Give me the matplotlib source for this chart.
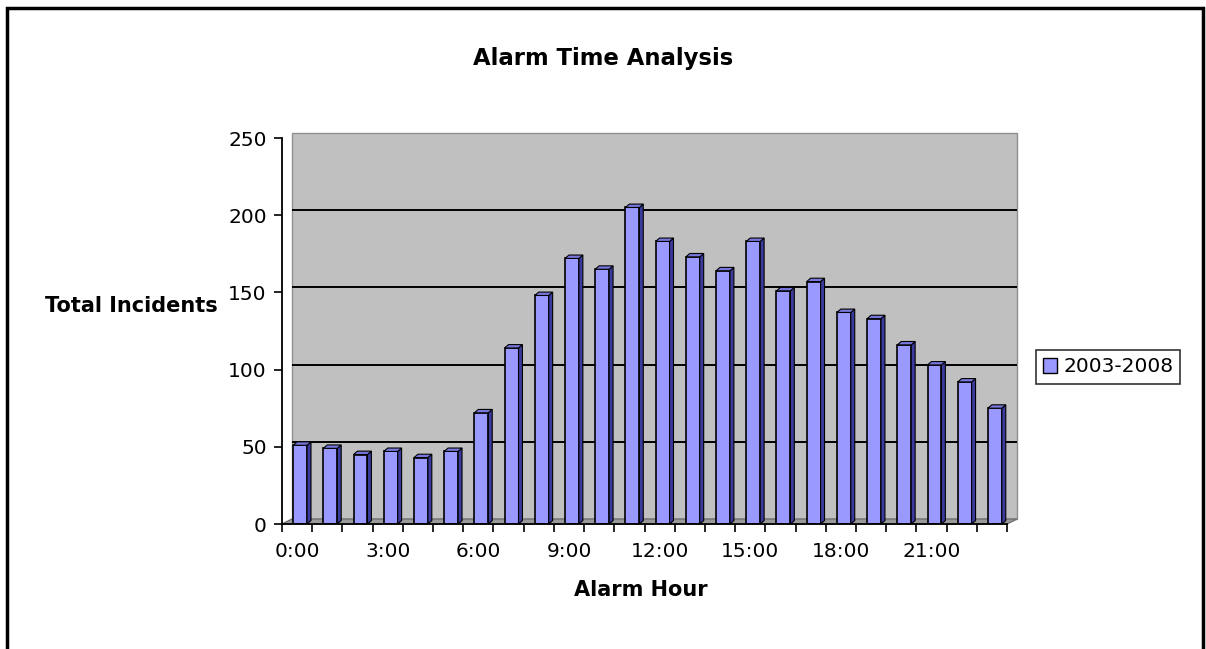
import matplotlib
matplotlib.use("Agg")
import matplotlib.pyplot as plt
import matplotlib.transforms as mtransforms
from matplotlib.patches import Polygon, Rectangle
import numpy as np

# alarm counts per hour, 2003-2008
hours = ["%d:00" % h for h in range(24)]
incidents = [51, 49, 45, 47, 43, 47, 72, 114, 148, 172, 165, 205,
             183, 173, 164, 183, 151, 157, 137, 133, 116, 103, 92, 75]
series_name = "2003-2008"
yticks = [0, 50, 100, 150, 200, 250]

front = "#9999FF"
side = "#3B3B9E"
top = "#7777DD"
wall = "#C0C0C0"

plt.rcParams['font.family'] = ['DejaVu Sans']

fig = plt.figure(figsize=(12.06, 6.49), dpi=100)
ax_l, ax_b, ax_w, ax_h = 282, 524, 725, 386   # pixels
ax = fig.add_axes([ax_l / 1206, 1 - ax_b / 649, ax_w / 1206, ax_h / 649])
ax.set_facecolor("none")

# back wall and floor shifted back (fake 3d depth)
ox, oy = 10 / ax_w, 5 / ax_h
ax.add_patch(Rectangle((ox, oy), 1, 1, transform=ax.transAxes, facecolor=wall,
                       edgecolor="#909090", lw=1, clip_on=False, zorder=0))
ax.add_patch(Polygon([(0, 0), (1, 0), (1 + ox, oy), (ox, oy)], closed=True,
                     transform=ax.transAxes, facecolor="#9A9A9A", edgecolor="#707070",
                     lw=1, clip_on=False, zorder=0.5))
grid_tr = mtransforms.blended_transform_factory(ax.transAxes, ax.transData) + \
    mtransforms.ScaledTranslation(0, 0.05, fig.dpi_scale_trans)
ax.hlines(yticks[1:-1], ox, 1 + ox, transform=grid_tr, colors="black", lw=1.4,
          clip_on=False, zorder=1)

x = np.arange(len(incidents))
w = 0.46
dx, dy = 0.13, 2.2

# bars sit a little into the depth, so nudge them right
bar_tr = ax.transData + mtransforms.ScaledTranslation(0.03, 0, fig.dpi_scale_trans)
bars = ax.bar(x, incidents, width=w, color=front, edgecolor="black", linewidth=1.2, zorder=3)
for b in bars:
    b.set_transform(bar_tr)
for xi, v in zip(x, incidents):
    r = xi + w / 2
    ax.add_patch(Polygon([(r, 0), (r + dx, dy), (r + dx, v + dy), (r, v)], transform=bar_tr,
                         closed=True, facecolor=side, edgecolor="black", lw=0.8, zorder=3))
    ax.add_patch(Polygon([(r - w, v), (r - w + dx, v + dy), (r + dx, v + dy), (r, v)],
                         transform=bar_tr, closed=True, facecolor=top, edgecolor="black",
                         lw=0.8, zorder=3))

ax.set_xlim(-0.5, 23.5)
ax.set_ylim(0, 250)
ax.set_yticks(yticks)

ax.set_xticks(np.arange(-0.5, 24, 1))
ax.set_xticklabels([])
ax.set_xticks(x[::3], minor=True)
ax.set_xticklabels(hours[::3], minor=True)
ax.tick_params(axis="x", which="minor", length=0, pad=13, labelsize=14.5)
ax.tick_params(axis="x", which="major", length=6, width=1.2)
ax.tick_params(axis="y", length=6, width=1.2, labelsize=14.5, pad=5)

for s in ["left", "bottom"]:
    ax.spines[s].set_color("black")
    ax.spines[s].set_linewidth(1.3)
    ax.spines[s].set_zorder(4)
for s in ["top", "right"]:
    ax.spines[s].set_visible(False)

fig.text(641 / 1206, 1 - 590 / 649, "Alarm Hour", fontsize=15, fontweight="bold",
         va="center", ha="center")
fig.text(45 / 1206, 1 - 306 / 649, "Total Incidents", fontsize=15, fontweight="bold",
         va="center", ha="left")
fig.text(603 / 1206, 1 - 58 / 649, "Alarm Time Analysis", fontsize=16.4, fontweight="bold",
         va="center", ha="center")

leg = ax.legend([Rectangle((0, 0), 1, 1, facecolor=front, edgecolor="black")], [series_name],
                loc="center left", bbox_to_anchor=(1036 / 1206, 1 - 367 / 649),
                bbox_transform=fig.transFigure, fontsize=14.5, frameon=True, fancybox=False,
                handlelength=0.7, handleheight=0.7, handletextpad=0.3, borderpad=0.35,
                borderaxespad=0)
leg.get_frame().set_edgecolor("black")
leg.get_frame().set_linewidth(1.2)

# outer chart border
fig.patches.append(Rectangle((7 / 1206, -0.1), 1196 / 1206, 1.1 - 8 / 649,
                             transform=fig.transFigure, fill=False, edgecolor="black", lw=2.5))

fig.savefig("out.png", dpi=100, facecolor="white")
